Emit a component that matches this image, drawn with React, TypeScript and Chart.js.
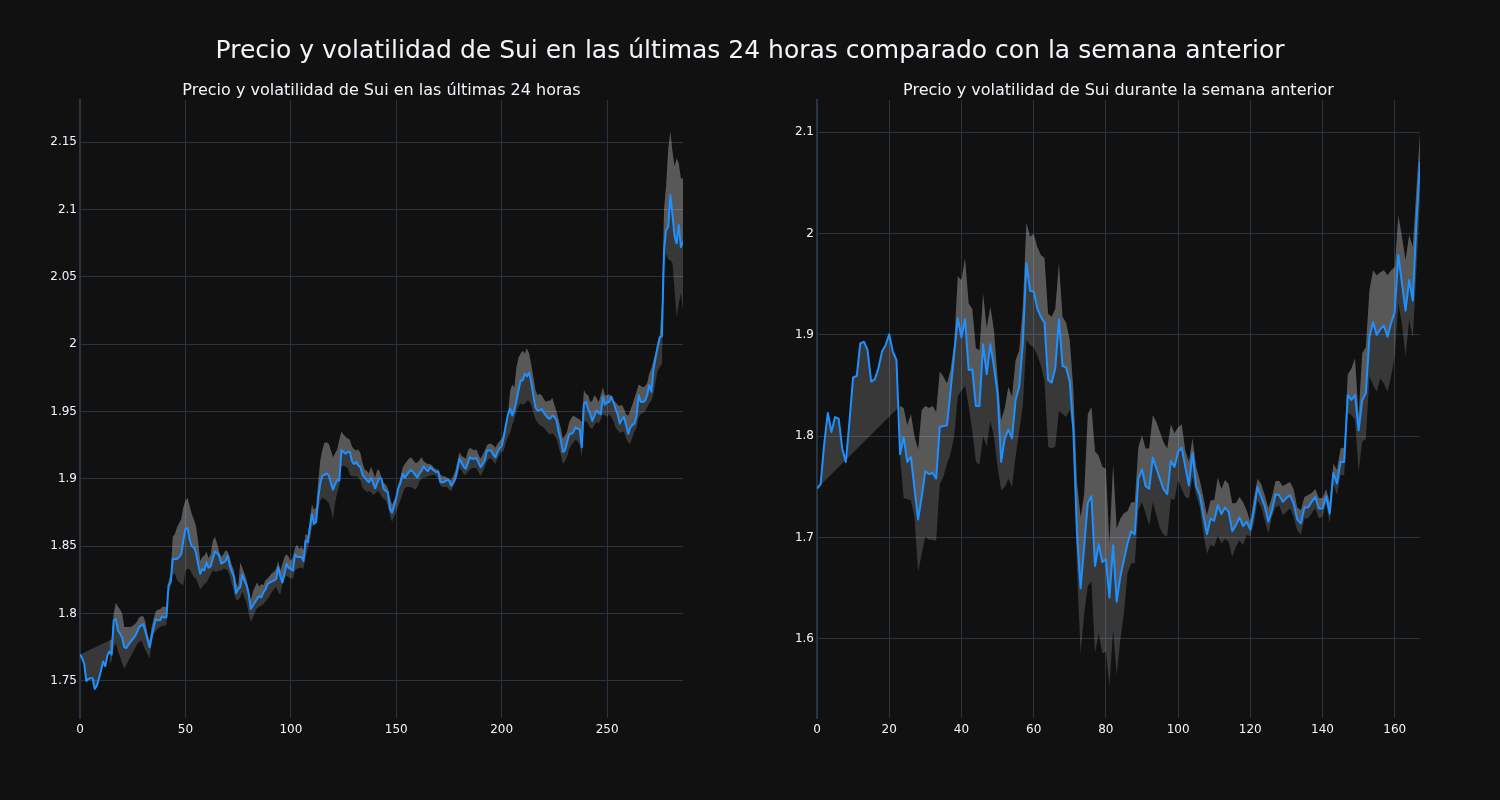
import React, { useEffect, useRef } from "react";
import { Chart, registerables } from "chart.js";

Chart.register(...registerables);

// ---------------- DATA ----------------
const mainTitle = "Precio y volatilidad de Sui en las últimas 24 horas comparado con la semana anterior";
const leftTitle = "Precio y volatilidad de Sui en las últimas 24 horas";
const rightTitle = "Precio y volatilidad de Sui durante la semana anterior";

const leftXTicks = [0, 50, 100, 150, 200, 250];
const leftYTicks = [1.75, 1.8, 1.85, 1.9, 1.95, 2, 2.05, 2.1, 2.15];
const rightXTicks = [0, 20, 40, 60, 80, 100, 120, 140, 160];
const rightYTicks = [1.6, 1.7, 1.8, 1.9, 2, 2.1];

// last 24 hours (5-minute steps)
const leftPrice = [
  1.7696, 1.767, 1.7626, 1.750, 1.7515, 1.752, 1.752, 1.744, 1.7465, 1.752,
  1.758, 1.7644, 1.761, 1.769, 1.772, 1.7696, 1.795, 1.796, 1.7874, 1.785,
  1.782, 1.775, 1.7745, 1.777, 1.779, 1.781, 1.783, 1.786, 1.790, 1.791,
  1.792, 1.787, 1.781, 1.775, 1.783, 1.790, 1.796, 1.795, 1.795, 1.798,
  1.797, 1.7973, 1.821, 1.8233, 1.8406, 1.8406, 1.8406, 1.842, 1.844, 1.854,
  1.863, 1.8634, 1.855, 1.850, 1.849, 1.8455, 1.837, 1.8295, 1.833, 1.832,
  1.838, 1.834, 1.835, 1.841, 1.846, 1.845, 1.843, 1.837, 1.838, 1.839,
  1.843, 1.8356, 1.831, 1.8275, 1.815, 1.818, 1.8196, 1.829, 1.8245, 1.821,
  1.8146, 1.8035, 1.806, 1.8084, 1.811, 1.813, 1.812, 1.816, 1.818, 1.822,
  1.823, 1.824, 1.8245, 1.8257, 1.8344, 1.828, 1.823, 1.830, 1.837, 1.834,
  1.833, 1.832, 1.844, 1.842, 1.842, 1.842, 1.839, 1.854, 1.853, 1.863,
  1.874, 1.8666, 1.868, 1.886, 1.897, 1.9025, 1.903, 1.904, 1.9025, 1.897,
  1.892, 1.896, 1.899, 1.8988, 1.9215, 1.920, 1.9186, 1.920, 1.920, 1.913,
  1.911, 1.9124, 1.910, 1.9087, 1.903, 1.901, 1.899, 1.8975, 1.9007, 1.897,
  1.893, 1.897, 1.9007, 1.900, 1.8926, 1.891, 1.890, 1.8777, 1.875, 1.880,
  1.886, 1.8933, 1.897, 1.9037, 1.9007, 1.903, 1.905, 1.9067, 1.905, 1.903,
  1.901, 1.904, 1.906, 1.9094, 1.907, 1.9057, 1.9087, 1.9074, 1.906, 1.905,
  1.905, 1.8975, 1.8975, 1.898, 1.899, 1.899, 1.895, 1.897, 1.900, 1.907,
  1.9149, 1.912, 1.909, 1.9074, 1.912, 1.916, 1.915, 1.915, 1.9156, 1.912,
  1.9087, 1.911, 1.9136, 1.921, 1.921, 1.921, 1.918, 1.916, 1.920, 1.9228,
  1.924, 1.931, 1.940, 1.948, 1.952, 1.947, 1.951, 1.958, 1.966, 1.973,
  1.973, 1.978, 1.976, 1.9787, 1.972, 1.962, 1.953, 1.9507, 1.951, 1.952,
  1.949, 1.947, 1.945, 1.9446, 1.947, 1.946, 1.9433, 1.935, 1.929, 1.920,
  1.921, 1.927, 1.933, 1.9334, 1.9347, 1.9384, 1.937, 1.937, 1.9235, 1.9557,
  1.957, 1.952, 1.948, 1.943, 1.947, 1.9507, 1.949, 1.948, 1.961, 1.955,
  1.957, 1.957, 1.961, 1.957, 1.952, 1.948, 1.941, 1.944, 1.946, 1.940,
  1.9334, 1.938, 1.940, 1.941, 1.947, 1.962, 1.957, 1.957, 1.958, 1.962,
  1.9696, 1.9646, 1.9807, 1.990, 1.998, 2.005, 2.006, 2.0698, 2.0847, 2.087,
  2.1106, 2.0958, 2.080, 2.0748, 2.0884, 2.072, 2.076,
];

const leftUpper = [
  null, null, null, null, null, null, null, null, null, null,
  null, null, null, null, 1.780, 1.781, 1.800, 1.808, 1.805, 1.803,
  1.800, 1.790, 1.790, 1.790, 1.790, 1.791, 1.792, 1.794, 1.797, 1.798,
  1.798, 1.794, 1.785, 1.780, 1.790, 1.797, 1.802, 1.803, 1.803, 1.805,
  1.805, 1.805, 1.824, 1.829, 1.857, 1.859, 1.864, 1.867, 1.870, 1.879,
  1.884, 1.886, 1.880, 1.874, 1.870, 1.865, 1.854, 1.839, 1.842, 1.843,
  1.846, 1.841, 1.844, 1.854, 1.857, 1.852, 1.846, 1.842, 1.844, 1.847,
  1.846, 1.842, 1.836, 1.832, 1.823, 1.820, 1.838, 1.834, 1.830, 1.825,
  1.818, 1.810, 1.816, 1.820, 1.823, 1.820, 1.822, 1.821, 1.825, 1.826,
  1.828, 1.830, 1.831, 1.833, 1.839, 1.832, 1.837, 1.842, 1.844, 1.842,
  1.839, 1.842, 1.849, 1.851, 1.848, 1.850, 1.847, 1.859, 1.858, 1.869,
  1.881, 1.877, 1.879, 1.898, 1.914, 1.922, 1.927, 1.927, 1.926, 1.921,
  1.916, 1.919, 1.922, 1.929, 1.935, 1.933, 1.931, 1.930, 1.929, 1.924,
  1.922, 1.921, 1.922, 1.919, 1.912, 1.907, 1.906, 1.904, 1.909, 1.905,
  1.901, 1.907, 1.906, 1.901, 1.897, 1.896, 1.893, 1.886, 1.881, 1.884,
  1.888, 1.896, 1.901, 1.908, 1.911, 1.913, 1.915, 1.916, 1.914, 1.912,
  1.912, 1.914, 1.916, 1.913, 1.912, 1.911, 1.911, 1.910, 1.908, 1.907,
  1.907, 1.903, 1.902, 1.902, 1.901, 1.900, 1.899, 1.902, 1.906, 1.913,
  1.920, 1.917, 1.916, 1.915, 1.921, 1.923, 1.922, 1.921, 1.922, 1.918,
  1.915, 1.918, 1.921, 1.925, 1.926, 1.926, 1.925, 1.923, 1.926, 1.928,
  1.930, 1.935, 1.941, 1.948, 1.965, 1.970, 1.968, 1.983, 1.990, 1.993,
  1.995, 1.993, 1.997, 1.993, 1.985, 1.976, 1.966, 1.962, 1.963, 1.962,
  1.959, 1.957, 1.958, 1.958, 1.960, 1.955, 1.950, 1.944, 1.938, 1.930,
  1.932, 1.935, 1.942, 1.945, 1.947, 1.946, 1.945, 1.944, 1.942, 1.966,
  1.963, 1.962, 1.957, 1.958, 1.962, 1.960, 1.957, 1.962, 1.968, 1.962,
  1.962, 1.963, 1.961, 1.958, 1.957, 1.955, 1.954, 1.955, 1.952, 1.948,
  1.947, 1.951, 1.955, 1.960, 1.965, 1.970, 1.969, 1.968, 1.969, 1.971,
  1.978, 1.982, 1.988, 1.994, 2.002, 2.007, 2.030, 2.100, 2.118, 2.145,
  2.158, 2.143, 2.132, 2.138, 2.134, 2.123, 2.123,
];

const leftLower = [
  null, null, null, null, null, null, null, null, null, null,
  null, null, null, null, 1.762, 1.765, 1.775, 1.778, 1.772, 1.768,
  1.763, 1.759, 1.762, 1.765, 1.768, 1.771, 1.774, 1.777, 1.779, 1.780,
  1.777, 1.773, 1.770, 1.767, 1.778, 1.785, 1.787, 1.789, 1.790, 1.791,
  1.791, 1.792, 1.816, 1.820, 1.829, 1.830, 1.825, 1.823, 1.822, 1.821,
  1.832, 1.833, 1.833, 1.830, 1.827, 1.826, 1.822, 1.818, 1.820, 1.822,
  1.823, 1.826, 1.829, 1.832, 1.831, 1.831, 1.832, 1.832, 1.833, 1.833,
  1.832, 1.828, 1.822, 1.816, 1.810, 1.810, 1.812, 1.816, 1.812, 1.808,
  1.800, 1.794, 1.797, 1.801, 1.804, 1.805, 1.806, 1.807, 1.809, 1.811,
  1.813, 1.816, 1.818, 1.820, 1.816, 1.814, 1.822, 1.826, 1.828, 1.827,
  1.826, 1.826, 1.832, 1.833, 1.834, 1.834, 1.833, 1.842, 1.848, 1.854,
  1.864, 1.866, 1.870, 1.877, 1.884, 1.886, 1.885, 1.884, 1.882, 1.877,
  1.870, 1.882, 1.890, 1.895, 1.909, 1.910, 1.909, 1.908, 1.903, 1.902,
  1.902, 1.902, 1.901, 1.899, 1.893, 1.892, 1.890, 1.891, 1.890, 1.888,
  1.889, 1.891, 1.890, 1.887, 1.885, 1.884, 1.880, 1.873, 1.868, 1.872,
  1.876, 1.880, 1.884, 1.889, 1.893, 1.894, 1.894, 1.894, 1.893, 1.892,
  1.894, 1.898, 1.900, 1.901, 1.901, 1.902, 1.902, 1.903, 1.903, 1.902,
  1.899, 1.895, 1.894, 1.894, 1.894, 1.892, 1.891, 1.894, 1.898, 1.902,
  1.908, 1.906, 1.903, 1.903, 1.905, 1.907, 1.908, 1.908, 1.908, 1.905,
  1.902, 1.905, 1.909, 1.913, 1.915, 1.915, 1.913, 1.911, 1.915, 1.918,
  1.920, 1.921, 1.927, 1.931, 1.934, 1.940, 1.944, 1.950, 1.954, 1.956,
  1.955, 1.956, 1.958, 1.958, 1.955, 1.949, 1.944, 1.942, 1.940, 1.939,
  1.938, 1.936, 1.934, 1.933, 1.934, 1.932, 1.930, 1.924, 1.918, 1.911,
  1.913, 1.916, 1.922, 1.925, 1.927, 1.929, 1.928, 1.925, 1.916, 1.942,
  1.943, 1.941, 1.938, 1.937, 1.940, 1.942, 1.941, 1.944, 1.948, 1.947,
  1.946, 1.948, 1.946, 1.943, 1.938, 1.936, 1.934, 1.935, 1.935, 1.930,
  1.927, 1.926, 1.931, 1.935, 1.938, 1.946, 1.948, 1.949, 1.950, 1.953,
  1.956, 1.958, 1.963, 1.972, 1.980, 1.983, 1.985, 2.055, 2.067, 2.063,
  2.062, 2.060, 2.040, 2.020, 2.030, 2.038, 2.025,
];

// previous week (hourly steps)
const rightPrice = [
  1.7484, 1.7527, 1.7928, 1.823, 1.8043, 1.819, 1.8174, 1.7878, 1.7747, 1.815,
  1.8582, 1.8595, 1.8918, 1.8934, 1.885, 1.854, 1.8562, 1.8671, 1.8836, 1.890,
  1.9007, 1.8836, 1.8753, 1.7823, 1.7993, 1.7747, 1.7796, 1.7484, 1.7179, 1.7402,
  1.7655, 1.7626, 1.7639, 1.7583, 1.8092, 1.8102, 1.8108, 1.845, 1.8819, 1.9164,
  1.8977, 1.9155, 1.8655, 1.866, 1.830, 1.830, 1.8908, 1.8612, 1.8908, 1.8687,
  1.8424, 1.7747, 1.798, 1.8066, 1.798, 1.8359, 1.849, 1.8918, 1.9707, 1.9437,
  1.9428, 1.9263, 1.918, 1.9122, 1.8556, 1.853, 1.8671, 1.9155, 1.8694, 1.868,
  1.854, 1.806, 1.704, 1.65, 1.691, 1.7343, 1.741, 1.672, 1.6936, 1.676,
  1.6785, 1.641, 1.6926, 1.6368, 1.6614, 1.6778, 1.6943, 1.7064, 1.7031, 1.7583,
  1.7672, 1.7507, 1.7484, 1.779, 1.7681, 1.7576, 1.7475, 1.7429, 1.7757, 1.7698,
  1.7846, 1.7888, 1.7698, 1.7517, 1.7836, 1.7507, 1.7419, 1.7222, 1.7034, 1.7189,
  1.7166, 1.732, 1.7232, 1.7297, 1.7255, 1.7064, 1.7123, 1.7199, 1.7113, 1.7156,
  1.708, 1.7271, 1.7501, 1.7402, 1.731, 1.7156, 1.7271, 1.7429, 1.7419, 1.7353,
  1.7392, 1.7419, 1.7337, 1.7179, 1.714, 1.7297, 1.7297, 1.7353, 1.7402, 1.7287,
  1.7287, 1.7409, 1.7238, 1.7639, 1.7534, 1.7747, 1.7747, 1.8408, 1.8359, 1.8408,
  1.8059, 1.8359, 1.8424, 1.8984, 1.9125, 1.900, 1.9056, 1.9092, 1.8984, 1.9115,
  1.923, 1.979, 1.951, 1.924, 1.9543, 1.9339, 2.0102, 2.071,
];

const rightUpper = [
  null, null, null, null, null, null, null, null, null, null,
  null, null, null, null, null, null, null, null, null, null,
  null, null, null, 1.830, 1.828, 1.811, 1.822, 1.800, 1.787, 1.826,
  1.830, 1.828, 1.830, 1.824, 1.864, 1.859, 1.852, 1.866, 1.892, 1.958,
  1.954, 1.976, 1.931, 1.926, 1.887, 1.885, 1.941, 1.907, 1.928, 1.905,
  1.859, 1.816, 1.828, 1.849, 1.839, 1.875, 1.885, 1.928, 2.011, 1.997,
  2.000, 1.987, 1.979, 1.976, 1.921, 1.918, 1.926, 1.971, 1.918, 1.912,
  1.895, 1.846, 1.755, 1.720, 1.743, 1.822, 1.829, 1.785, 1.781, 1.770,
  1.768, 1.694, 1.773, 1.709, 1.719, 1.724, 1.726, 1.735, 1.735, 1.789,
  1.801, 1.788, 1.788, 1.821, 1.814, 1.804, 1.794, 1.788, 1.812, 1.803,
  1.809, 1.812, 1.786, 1.775, 1.798, 1.770, 1.757, 1.740, 1.722, 1.737,
  1.737, 1.759, 1.748, 1.757, 1.753, 1.734, 1.734, 1.740, 1.735, 1.727,
  1.716, 1.739, 1.758, 1.753, 1.742, 1.729, 1.740, 1.756, 1.756, 1.751,
  1.753, 1.755, 1.748, 1.730, 1.727, 1.740, 1.742, 1.744, 1.748, 1.739,
  1.739, 1.748, 1.735, 1.773, 1.767, 1.788, 1.789, 1.861, 1.867, 1.877,
  1.820, 1.882, 1.888, 1.944, 1.964, 1.959, 1.962, 1.964, 1.959, 1.964,
  1.967, 2.018, 1.997, 1.974, 1.999, 1.987, 2.043, 2.099,
];

const rightLower = [
  null, null, null, null, null, null, null, null, null, null,
  null, null, null, null, null, null, null, null, null, null,
  null, null, null, 1.780, 1.739, 1.738, 1.737, 1.720, 1.666, 1.684,
  1.701, 1.698, 1.698, 1.697, 1.753, 1.760, 1.773, 1.783, 1.800, 1.840,
  1.845, 1.850, 1.830, 1.805, 1.775, 1.772, 1.800, 1.790, 1.815, 1.800,
  1.770, 1.747, 1.750, 1.758, 1.750, 1.780, 1.805, 1.830, 1.895, 1.890,
  1.888, 1.880, 1.870, 1.855, 1.790, 1.788, 1.790, 1.825, 1.822, 1.819,
  1.826, 1.800, 1.670, 1.586, 1.625, 1.652, 1.657, 1.586, 1.606, 1.586,
  1.5875, 1.553, 1.609, 1.5645, 1.599, 1.625, 1.665, 1.6745, 1.6745, 1.727,
  1.735, 1.724, 1.712, 1.735, 1.722, 1.709, 1.7025, 1.701, 1.7386, 1.737,
  1.757, 1.748, 1.740, 1.7386, 1.760, 1.742, 1.730, 1.704, 1.684, 1.693,
  1.691, 1.702, 1.694, 1.699, 1.696, 1.681, 1.691, 1.6975, 1.6926, 1.7025,
  1.701, 1.714, 1.737, 1.730, 1.717, 1.704, 1.7205, 1.730, 1.732, 1.722,
  1.7255, 1.729, 1.7205, 1.707, 1.7025, 1.719, 1.719, 1.724, 1.729, 1.719,
  1.7205, 1.7337, 1.714, 1.753, 1.742, 1.7616, 1.7616, 1.823, 1.821, 1.816,
  1.765, 1.795, 1.797, 1.859, 1.851, 1.844, 1.857, 1.852, 1.844, 1.859,
  1.879, 1.931, 1.911, 1.879, 1.915, 1.897, 1.964, 2.033,
];

// ---------------- STYLE ----------------
const BG = "#111111";
const GRID = "#283442";
const TEXT = "#f2f5fa";
const LINE = "#1e90ff";
const BAND = "rgba(255,255,255,0.165)";
const FONT = "'DejaVu Sans', sans-serif";

Chart.defaults.font.family = FONT;

type PanelProps = {
  price: number[];
  upper: (number | null)[];
  lower: (number | null)[];
  yMin: number;
  yMax: number;
  xTicks: number[];
  yTicks: number[];
  left: number;
};

function Panel({ price, upper, lower, yMin, yMax, xTicks, yTicks, left }: PanelProps) {
  const ref = useRef<HTMLCanvasElement | null>(null);

  useEffect(() => {
    if (!ref.current) return;
    const xy = (arr: (number | null)[]) => arr.map((v, i) => ({ x: i, y: v }));
    // plotly closes the band fill back to the first price point
    const upperPts = upper.map((v, i) => ({ x: i, y: i === 0 ? price[0] : v }));
    const xMax = price.length - 1;

    const chart = new Chart(ref.current, {
      type: "line",
      data: {
        datasets: [
          {
            data: xy(price),
            borderColor: LINE,
            borderWidth: 2,
            pointRadius: 0,
            fill: false,
            tension: 0,
            borderJoinStyle: "round",
          },
          {
            data: upperPts,
            borderColor: "rgba(0,0,0,0)",
            borderWidth: 1,
            pointRadius: 0,
            backgroundColor: BAND,
            fill: "-1",
            spanGaps: true,
            tension: 0,
          },
          {
            data: xy(lower),
            borderColor: "rgba(0,0,0,0)",
            borderWidth: 1,
            pointRadius: 0,
            backgroundColor: BAND,
            fill: "-1",
            spanGaps: false,
            tension: 0,
          },
        ],
      } as any,
      options: {
        animation: false,
        responsive: false,
        maintainAspectRatio: false,
        events: [],
        layout: { padding: { top: 100, right: 17, bottom: 50, left: 0 } },
        plugins: {
          legend: { display: false },
          tooltip: { enabled: false },
          title: { display: false },
        },
        scales: {
          x: {
            type: "linear",
            min: 0,
            max: xMax,
            grid: { color: GRID, lineWidth: 1, drawTicks: false },
            border: { display: false },
            ticks: {
              color: TEXT,
              font: { size: 12, family: FONT },
              padding: 5,
              autoSkip: false,
              maxRotation: 0,
              callback: (v: any) => String(v),
            },
            afterBuildTicks: (s: any) => {
              s.ticks = xTicks.map((v) => ({ value: v }));
            },
            afterFit: (s: any) => {
              s.height = 32;
            },
          },
          y: {
            type: "linear",
            min: yMin,
            max: yMax,
            grid: { color: GRID, lineWidth: 1, drawTicks: false },
            border: { display: true, color: GRID, width: 2 },
            ticks: {
              color: TEXT,
              font: { size: 12, family: FONT },
              padding: 3,
              autoSkip: false,
              callback: (v: any) => String(Number(Number(v).toFixed(2))),
            },
            afterBuildTicks: (s: any) => {
              s.ticks = yTicks.map((v) => ({ value: v }));
            },
            afterFit: (s: any) => {
              s.width = 80;
            },
          },
        },
      } as any,
    });
    return () => chart.destroy();
  }, []);

  return (
    <canvas
      ref={ref}
      width={700}
      height={800}
      style={{ position: "absolute", left, top: 0, width: 700, height: 800 }}
    />
  );
}

const titleBase: React.CSSProperties = {
  position: "absolute",
  whiteSpace: "nowrap",
  lineHeight: 1,
  fontFamily: FONT,
  color: TEXT,
  transform: "translateX(-50%)",
};

export default function App() {
  return (
    <div
      style={{
        position: "fixed",
        left: 0,
        top: 0,
        width: 1500,
        height: 800,
        background: BG,
        overflow: "hidden",
      }}
    >
      <Panel
        price={leftPrice}
        upper={leftUpper}
        lower={leftLower}
        yMin={1.7225}
        yMax={2.1812}
        xTicks={leftXTicks}
        yTicks={leftYTicks}
        left={0}
      />
      <Panel
        price={rightPrice}
        upper={rightUpper}
        lower={rightLower}
        yMin={1.522}
        yMax={2.1319}
        xTicks={rightXTicks}
        yTicks={rightYTicks}
        left={737}
      />
      <div style={{ ...titleBase, left: 750, top: 37, fontSize: 25 }}>{mainTitle}</div>
      <div style={{ ...titleBase, left: 381.5, top: 81.5, fontSize: 16 }}>{leftTitle}</div>
      <div style={{ ...titleBase, left: 1118.5, top: 81.5, fontSize: 16 }}>{rightTitle}</div>
    </div>
  );
}
